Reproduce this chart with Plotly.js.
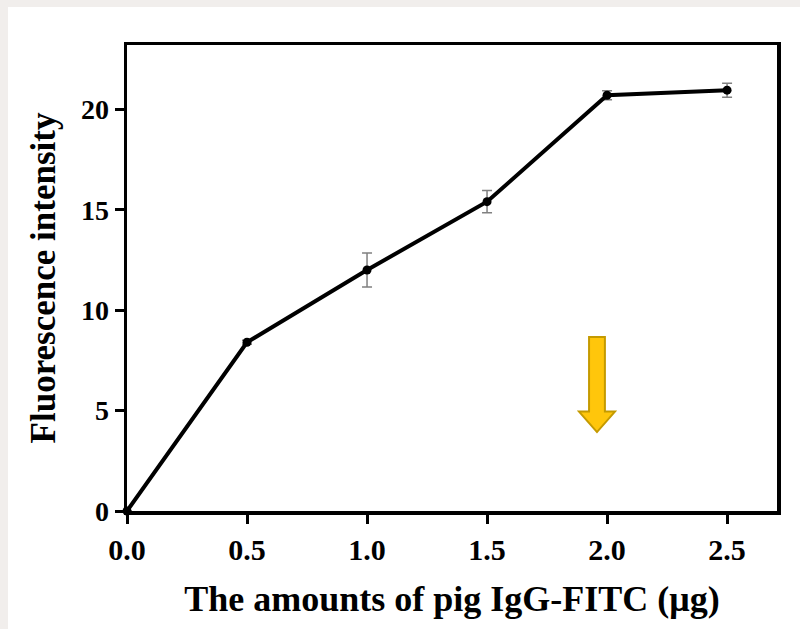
<!DOCTYPE html>
<html>
<head>
<meta charset="utf-8">
<script src="https://cdn.plot.ly/plotly-3.0.1.min.js"></script>
<style>
html,body{margin:0;padding:0;background:#f1eeec;width:800px;height:629px;overflow:hidden;}
#chart{position:absolute;left:8px;top:7px;width:792px;height:622px;background:#fff;}
</style>
</head>
<body>
<div id="chart"></div>
<script>
const amounts = [0, 0.5, 1.0, 1.5, 2.0, 2.5];
const intensity = [0, 8.4, 12.0, 15.4, 20.7, 20.95];
const errors = [0, 0.1, 0.85, 0.55, 0.22, 0.35];
const yTicks = [0, 5, 10, 15, 20];
const xTicks = [0, 0.5, 1.0, 1.5, 2.0, 2.5];
const xTickLabels = ['0.0', '0.5', '1.0', '1.5', '2.0', '2.5'];

const fam = 'Liberation Serif, Times New Roman, serif';

const trace = {
  x: amounts, y: intensity, type: 'scatter', mode: 'lines+markers',
  line: {color: '#000', width: 4},
  marker: {color: '#000', size: 9},
  error_y: {type: 'data', array: errors, visible: true, color: '#808080', thickness: 1.5, width: 5},
  cliponaxis: false, showlegend: false, hoverinfo: 'skip'
};

// block arrow (data coordinates)
const arX = 1.958, arTop = 8.66, arNeck = 4.95, arTip = 3.93, arHw = 0.033, arHh = 0.075;
const arrowPath = `M ${arX-arHw} ${arTop} L ${arX+arHw} ${arTop} L ${arX+arHw} ${arNeck} L ${arX+arHh} ${arNeck} L ${arX} ${arTip} L ${arX-arHh} ${arNeck} L ${arX-arHw} ${arNeck} Z`;

const layout = {
  width: 792, height: 622,
  margin: {l: 119, r: 23, t: 38, b: 118},
  paper_bgcolor: '#fff', plot_bgcolor: '#fff',
  font: {family: fam, color: '#000'},
  xaxis: {
    range: [0, 2.708], tickvals: xTicks, ticktext: xTickLabels,
    ticks: 'outside', ticklen: 9, tickwidth: 3, tickcolor: '#000',
    showline: true, linecolor: '#000', linewidth: 3.5, mirror: true,
    showgrid: false, zeroline: false, automargin: false,
    tickfont: {family: fam, size: 30, color: '#000', weight: 'bold'},
    title: {text: 'The amounts of pig IgG-FITC (μg)', standoff: 22,
      font: {family: fam, size: 36, color: '#000', weight: 'bold'}}
  },
  yaxis: {
    range: [0, 23.2], tickvals: yTicks,
    ticks: 'outside', ticklen: 9, tickwidth: 3, tickcolor: '#000',
    showline: true, linecolor: '#000', linewidth: 3.5, mirror: true,
    showgrid: false, zeroline: false, automargin: false,
    tickfont: {family: fam, size: 28, color: '#000', weight: 'bold'},
    title: {text: 'Fluorescence intensity', standoff: 15,
      font: {family: fam, size: 35, color: '#000', weight: 'bold'}}
  },
  shapes: [{
    type: 'path', xref: 'x', yref: 'y', path: arrowPath,
    fillcolor: '#FFC60B', line: {color: '#C49A00', width: 2}
  }]
};

Plotly.newPlot('chart', [trace], layout, {displayModeBar: false, staticPlot: true});
</script>
</body>
</html>
